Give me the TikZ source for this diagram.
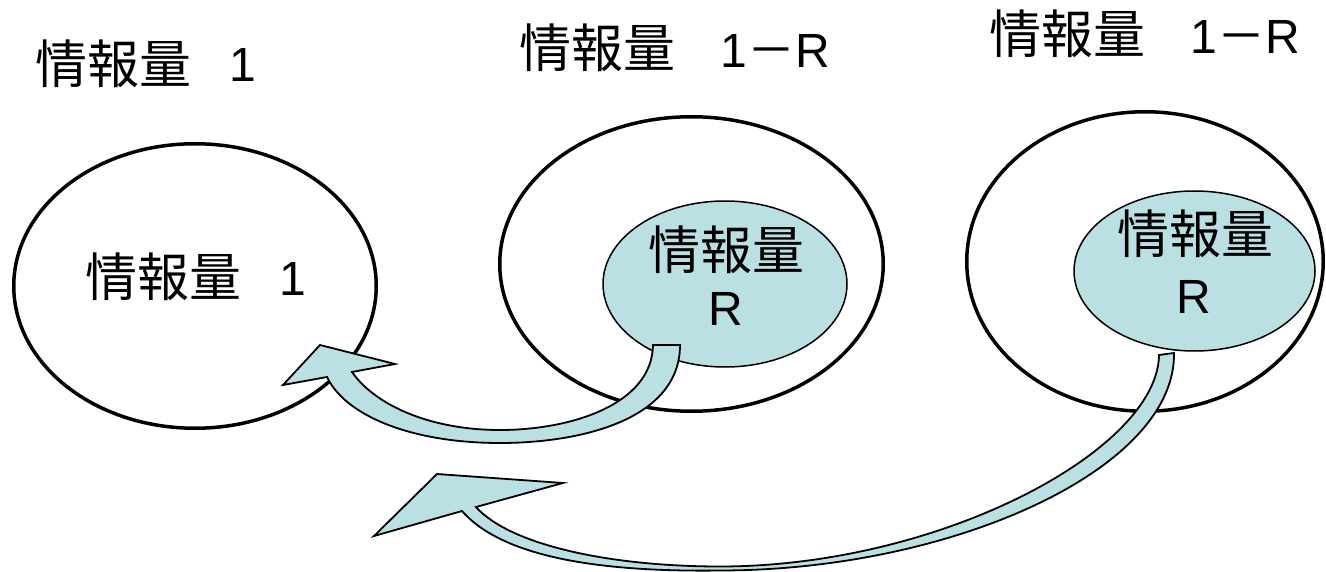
\documentclass[tikz,border=0pt]{standalone}
\usepackage{fontspec}
\setmainfont{Liberation Sans}
\newfontfamily\cjk{Noto Sans CJK JP}
\usetikzlibrary{shapes.geometric}
\definecolor{lblue}{HTML}{BBE0E3}
\begin{document}
\begin{tikzpicture}[x=1pt,y=-1pt,
  bigell/.style={ellipse, draw=black, line width=3.5pt, inner sep=0pt},
  smallell/.style={ellipse, draw=black, fill=lblue, line width=1.5pt, inner sep=0pt},
  curvarrow/.style={draw=black, fill=lblue, line width=1.8pt, line join=miter},
  cjkt/.style={inner sep=0pt, font=\cjk\fontsize{52}{60}\selectfont},
  latt/.style={inner sep=0pt, font=\fontsize{48}{56}\selectfont}]
\fill[white] (0,0) rectangle (1326,572);
\useasboundingbox (0,0) rectangle (1326,572);

% big ellipses
\node[bigell, minimum width=362.5pt, minimum height=284.5pt] (E1) at (195,286) {};
\node[bigell, minimum width=383.5pt, minimum height=294.5pt] (E2) at (691.5,264) {};
\node[bigell, minimum width=356.5pt, minimum height=299.5pt] (E3) at (1145,261.5) {};

% small ellipses
\node[smallell, minimum width=244pt, minimum height=166pt] (S2) at (725,284) {};
\node[smallell, minimum width=241pt, minimum height=160pt] (S3) at (1194.5,271) {};

% curved arrow 1 (from S2 to E1)
\filldraw[curvarrow] (680,345) .. controls (680,420) and (580,443) .. (500,443)
  .. controls (410,443) and (345,415) .. (327,377)
  -- (283,385) -- (320,345) -- (395,364) -- (352,372)
  .. controls (375,405) and (430,430) .. (500,430)
  .. controls (570,430) and (652,405) .. (653,345) -- cycle;

% curved arrow 2 (from S3)
\filldraw[curvarrow] (1174,353) .. controls (1176,470) and (950,570.5) .. (720,570.5)
  .. controls (610,572) and (505,560) .. (462,511)
  -- (374,536) -- (437,474) -- (563,483) -- (476,507)
  .. controls (510,545) and (610,566.5) .. (720,566.5)
  .. controls (940,566.5) and (1158,450) .. (1159,355) -- cycle;

% top labels
\node[cjkt] (t1a) at (113.5,64) {情報量};
\node[latt] (t1b) at (243,64.5) {1};
\node[cjkt] (t2a) at (597,47.5) {情報量};
\node[latt] (t2b) at (775,51) {1{\cjk －}R};
\node[cjkt] (t3a) at (1067,34) {情報量};
\node[latt] (t3b) at (1245,37) {1{\cjk －}R};

% inner labels
\node[cjkt] (i1a) at (163,277) {情報量};
\node[latt] (i1b) at (293,279) {1};
\node[cjkt] (i2a) at (726,250) {情報量};
\node[latt] (i2b) at (726,309) {R};
\node[cjkt] (i3a) at (1195,234) {情報量};
\node[latt] (i3b) at (1194,297) {R};
\end{tikzpicture}
\end{document}
